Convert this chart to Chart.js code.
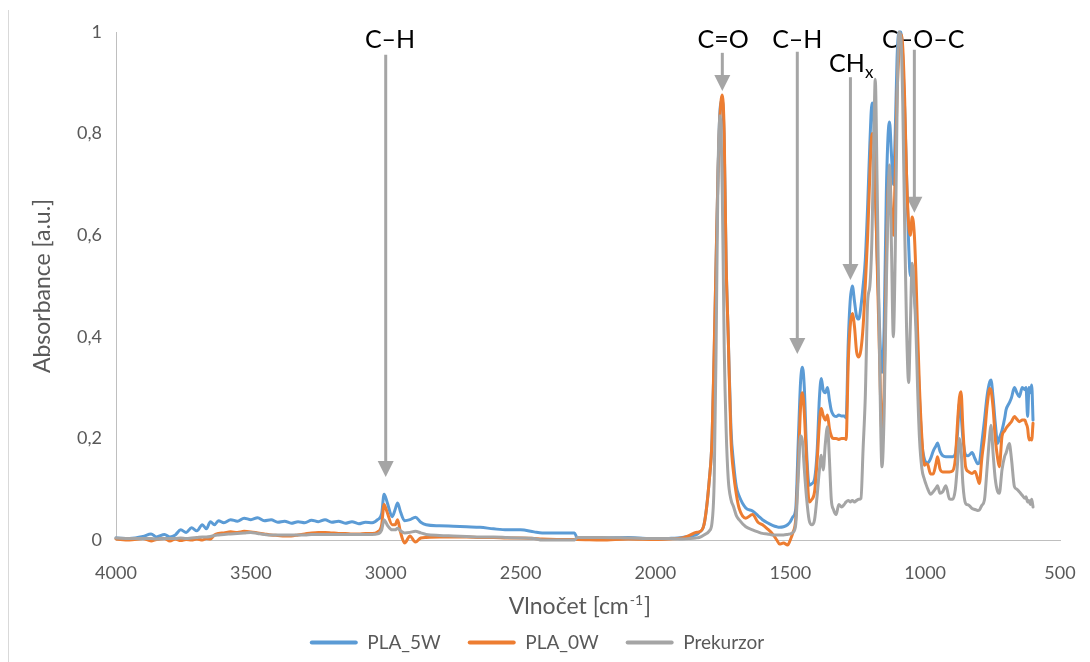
<!DOCTYPE html>
<html lang="cs">
<head>
<meta charset="utf-8">
<title>FTIR spektra</title>
<script src="https://cdn.jsdelivr.net/npm/chart.js@4.4.1/dist/chart.umd.min.js"></script>
<style>
html,body{margin:0;padding:0;background:#ffffff;}
#wrap{width:1090px;height:662px;position:relative;}
canvas{display:block;}
</style>
</head>
<body>
<div id="wrap"><canvas id="chart" width="1090" height="662"></canvas></div>
<script>
// ---------------- data ----------------
const wavenumbers = [
  4000,3950,3900,3870,3850,3820,3800,3780,3760,3740,3720,3700,3680,3665,3650,3635,3620,3600,3575,3550,
  3525,3500,3475,3450,3425,3400,3375,3350,3325,3300,3275,3250,3225,3200,3175,3150,3125,3100,3075,3050,
  3030,3015,3006,2995,2976,2965,2956,2945,2930,2910,2890,2870,2850,2800,2750,2700,2650,2600,2550,2500,
  2450,2420,2300,2290,2200,2100,2000,1950,1900,1870,1850,1838,1820,1800,1790,1782,1775,1768,1760,1752,
  1745,1738,1730,1720,1710,1700,1690,1665,1640,1620,1603,1585,1566,1550,1540,1525,1510,1500,1490,1480,
  1470,1462,1455,1448,1440,1430,1420,1410,1400,1392,1385,1378,1370,1362,1355,1348,1340,1330,1320,1310,
  1300,1293,1285,1278,1270,1262,1254,1246,1238,1230,1222,1213,1205,1197,1190,1185,1178,1170,1160,1152,
  1144,1138,1132,1125,1118,1111,1104,1097,1090,1083,1076,1069,1061,1055,1048,1040,1034,1028,1021,1012,
  1003,997,990,980,970,960,954,945,935,923,910,898,888,880,873,867,860,850,840,826,
  815,805,799,790,780,770,760,756,748,740,731,725,715,705,700,688,680,669,660,651,
  640,630,626,620,615,610,605,600
];
const pla5w = [
  .004,.003,.007,.012,.006,.011,.006,.010,.020,.015,.024,.018,.030,.022,.036,.030,.038,.034,.040,.037,
  .043,.040,.044,.038,.040,.035,.037,.033,.036,.034,.039,.036,.040,.035,.037,.033,.036,.032,.035,.034,
  .040,.052,.090,.075,.046,.060,.073,.055,.038,.040,.045,.035,.030,.028,.027,.026,.025,.022,.020,.020,
  .016,.014,.014,.004,.004,.005,.002,.003,.005,.008,.010,.015,.030,.120,.200,.370,.550,.720,.850,.865,
  .780,.550,.400,.220,.150,.105,.087,.063,.057,.048,.040,.034,.029,.026,.025,.026,.030,.036,.046,.060,
  .200,.310,.340,.300,.180,.108,.111,.120,.180,.280,.318,.295,.290,.300,.276,.255,.246,.243,.246,.244,
  .244,.240,.390,.470,.500,.470,.440,.435,.460,.500,.550,.660,.780,.860,.820,.700,.560,.430,.330,.420,
  .680,.790,.823,.760,.700,.800,.950,1.000,1.000,.950,.850,.720,.580,.520,.540,.480,.440,.370,.280,.190,
  .160,.153,.152,.160,.175,.185,.191,.175,.166,.164,.164,.164,.170,.210,.270,.250,.200,.168,.166,.172,
  .160,.150,.152,.190,.236,.285,.312,.315,.280,.230,.190,.200,.216,.240,.256,.270,.280,.300,.290,.282,
  .300,.296,.300,.243,.300,.290,.305,.236
];
const pla0w = [
  .002,.000,.003,-.002,.001,.003,-.002,.002,-.001,.001,.000,.002,.000,.003,.002,.010,.013,.014,.016,.015,
  .017,.016,.014,.012,.010,.009,.008,.008,.010,.012,.014,.015,.015,.014,.013,.013,.012,.012,.013,.013,
  .016,.030,.070,.055,.030,.030,.040,.015,-.006,.008,-.004,.004,.005,.006,.006,.006,.005,.005,.004,.004,
  .003,.002,.001,.001,.000,.002,.001,.002,.004,.010,.015,.016,.030,.120,.200,.380,.550,.720,.840,.876,
  .800,.550,.400,.200,.130,.090,.063,.043,.050,.035,.030,.022,.012,.000,-.008,-.006,-.010,.000,.015,.040,
  .150,.260,.290,.250,.160,.075,.080,.095,.160,.230,.259,.245,.236,.246,.220,.205,.200,.200,.198,.200,
  .200,.198,.350,.420,.446,.420,.370,.360,.375,.420,.500,.600,.720,.800,.790,.700,.550,.380,.210,.300,
  .550,.680,.720,.650,.600,.720,.880,.960,.995,.970,.870,.720,.620,.600,.636,.600,.520,.410,.300,.200,
  .147,.150,.148,.130,.130,.150,.164,.140,.134,.134,.134,.136,.160,.230,.280,.292,.220,.144,.135,.131,
  .135,.120,.111,.160,.204,.265,.298,.295,.260,.200,.160,.144,.204,.215,.220,.228,.233,.243,.238,.233,
  .236,.236,.230,.220,.197,.200,.197,.230
];
const prekurzor = [
  .004,.003,.003,.003,.002,.003,.003,.003,.004,.003,.004,.005,.006,.006,.007,.009,.010,.011,.012,.013,
  .014,.015,.013,.011,.010,.010,.010,.010,.010,.010,.011,.011,.011,.011,.011,.011,.011,.011,.011,.011,
  .012,.020,.040,.030,.020,.020,.023,.018,.014,.015,.017,.014,.011,.009,.008,.007,.006,.006,.005,.004,
  .003,.000,.000,.005,.005,.004,.003,.003,.002,.003,.004,.005,.010,.018,.035,.120,.380,.720,.835,.680,
  .380,.220,.120,.080,.065,.048,.040,.026,.020,.016,.013,.012,.010,.010,.010,.010,.011,.012,.015,.030,
  .130,.205,.195,.140,.085,.039,.030,.040,.090,.138,.167,.138,.190,.223,.160,.080,.060,.050,.070,.065,
  .070,.075,.078,.075,.078,.075,.078,.080,.082,.180,.280,.470,.500,.600,.800,.907,.700,.400,.144,.250,
  .500,.650,.738,.580,.400,.560,.850,1.000,.990,.860,.620,.420,.310,.420,.545,.480,.410,.300,.200,.140,
  .120,.110,.100,.090,.095,.102,.107,.092,.095,.107,.081,.080,.100,.150,.200,.180,.110,.072,.069,.062,
  .060,.058,.059,.068,.079,.144,.210,.226,.170,.120,.095,.092,.138,.165,.171,.190,.160,.105,.100,.095,
  .088,.082,.085,.075,.078,.070,.080,.065
];
const seriesNames = ['PLA_5W', 'PLA_0W', 'Prekurzor'];
const xTickValues = [4000, 3500, 3000, 2500, 2000, 1500, 1000, 500];
const yTickValues = [0, 0.2, 0.4, 0.6, 0.8, 1];
const bandNames = ['C–H', 'C=O', 'C–H', 'CH', 'C–O–C'];
const bandSubscripts = ['', '', '', 'x', ''];
const bandLabelWavenumbers = [2984, 1749, 1474, 1274, 1007];
const bandLabelLevels = [0.969, 0.969, 0.969, 0.921, 0.969];
const arrowWavenumbers = [3000, 1752, 1474, 1277, 1040];
const arrowStartLevels = [0.955, 0.959, 0.961, 0.911, 0.965];
const arrowTipLevels = [0.124, 0.884, 0.366, 0.512, 0.644];
const xTitleMain = 'Vlnočet [cm';
const xTitleSup = '-1';
const xTitleEnd = ']';
const yTitle = 'Absorbance [a.u.]';

// ---------------- styles ----------------
const FONT = 'Lato, "Liberation Sans", sans-serif';
const seriesColors = ['#5B9BD5', '#ED7D31', '#A5A5A5'];
const PLOT_BOTTOM = 540;
const LEGEND_SHIFT = -4;

const extras = {
  id: 'extras',
  beforeDraw(chart) {
    const ctx = chart.ctx;
    ctx.save();
    ctx.fillStyle = '#ffffff';
    ctx.fillRect(0, 0, chart.width, chart.height);
    ctx.strokeStyle = '#D9D9D9';
    ctx.lineWidth = 1;
    ctx.beginPath();
    ctx.moveTo(8.5, 10);
    ctx.lineTo(8.5, chart.height);
    ctx.stroke();
    ctx.restore();
  },
  afterLayout(chart) {
    const L = chart.legend;
    if (L) { L.left += LEGEND_SHIFT; L.right += LEGEND_SHIFT; }
  },
  beforeDatasetsDraw(chart) {
    const {ctx, scales: {x, y}} = chart;
    ctx.save();
    ctx.strokeStyle = '#A5A5A5';
    ctx.fillStyle = '#A5A5A5';
    ctx.lineWidth = 3;
    arrowWavenumbers.forEach((w, i) => {
      const px = x.getPixelForValue(w);
      const y0 = y.getPixelForValue(arrowStartLevels[i]);
      const y1 = y.getPixelForValue(arrowTipLevels[i]);
      const head = 16, half = 8;
      ctx.beginPath();
      ctx.moveTo(px, y0);
      ctx.lineTo(px, y1 - head + 1);
      ctx.stroke();
      ctx.beginPath();
      ctx.moveTo(px - half, y1 - head);
      ctx.lineTo(px + half, y1 - head);
      ctx.lineTo(px, y1);
      ctx.closePath();
      ctx.fill();
    });
    ctx.fillStyle = '#000000';
    ctx.textBaseline = 'alphabetic';
    ctx.textAlign = 'left';
    bandNames.forEach((t, i) => {
      ctx.font = '25px ' + FONT;
      const w1 = ctx.measureText(t).width;
      ctx.font = '17px ' + FONT;
      const sub = bandSubscripts[i];
      const w2 = sub ? ctx.measureText(sub).width : 0;
      const cx = x.getPixelForValue(bandLabelWavenumbers[i]);
      const by = y.getPixelForValue(bandLabelLevels[i]);
      const left = cx - (w1 + w2) / 2;
      ctx.font = '25px ' + FONT;
      ctx.fillText(t, left, by);
      if (sub) {
        ctx.font = '17px ' + FONT;
        ctx.fillText(sub, left + w1, by + 6);
      }
    });
    ctx.restore();
  },
  afterDraw(chart) {
    const {ctx, chartArea} = chart;
    ctx.save();
    ctx.fillStyle = '#595959';
    ctx.textBaseline = 'alphabetic';
    ctx.textAlign = 'left';
    const big = '23px ' + FONT, small = '14px ' + FONT;
    ctx.font = big;
    const a = ctx.measureText(xTitleMain).width;
    const c = ctx.measureText(xTitleEnd).width;
    ctx.font = small;
    const b = ctx.measureText(xTitleSup).width;
    const cx = (chartArea.left + chartArea.right) / 2 - 8;
    const base = chartArea.bottom + 74;
    const left = cx - (a + b + c + 2) / 2;
    ctx.font = big;
    ctx.fillText(xTitleMain, left, base);
    ctx.font = small;
    ctx.fillText(xTitleSup, left + a + 1, base - 9);
    ctx.font = big;
    ctx.fillText(xTitleEnd, left + a + b + 2, base);
    ctx.restore();
  }
};

const datasets = [pla5w, pla0w, prekurzor].map((vals, k) => ({
  label: seriesNames[k],
  data: wavenumbers.map((w, i) => ({x: w, y: vals[i]})),
  borderColor: seriesColors[k],
  backgroundColor: seriesColors[k],
  borderWidth: 3,
  pointRadius: 0,
  pointHoverRadius: 0,
  fill: false,
  cubicInterpolationMode: 'monotone',
  borderJoinStyle: 'round',
  borderCapStyle: 'round',
  clip: false,
  order: 3 - k
}));

new Chart(document.getElementById('chart'), {
  type: 'line',
  data: {datasets},
  plugins: [extras],
  options: {
    responsive: false,
    animation: false,
    devicePixelRatio: 1,
    events: [],
    layout: {padding: {left: 22, right: 30, top: 32, bottom: 0}},
    plugins: {
      tooltip: {enabled: false},
      legend: {
        position: 'bottom',
        align: 'center',
        labels: {
          color: '#595959',
          font: {family: FONT, size: 19},
          boxWidth: 48,
          boxHeight: 4,
          padding: 27,
          generateLabels(chart) {
            const items = Chart.defaults.plugins.legend.labels.generateLabels(chart);
            items.forEach(it => { it.fillStyle = it.strokeStyle; it.lineWidth = 0; it.borderRadius = 2; });
            return items.sort((p, q) => p.datasetIndex - q.datasetIndex);
          }
        }
      }
    },
    scales: {
      x: {
        type: 'linear',
        reverse: true,
        min: 500,
        max: 4000,
        afterBuildTicks(s) { s.ticks = xTickValues.map(v => ({value: v})); },
        afterFit(s) {
          const c = s.chart;
          const lh = c.legend ? c.legend.height : 55;
          s.height = c.height - PLOT_BOTTOM - lh;
          s.paddingLeft = 0;
          s.paddingRight = 0;
        },
        grid: {display: false, drawTicks: false},
        border: {display: true, color: '#BFBFBF', width: 1},
        ticks: {
          color: '#595959',
          font: {family: FONT, size: 18},
          padding: 22,
          autoSkip: false,
          maxRotation: 0,
          minRotation: 0,
          callback: v => String(v)
        }
      },
      y: {
        type: 'linear',
        min: 0,
        max: 1,
        afterBuildTicks(s) { s.ticks = yTickValues.map(v => ({value: v})); },
        afterFit(s) { s.width = 94; },
        grid: {display: false, drawTicks: false},
        border: {display: true, color: '#BFBFBF', width: 1},
        ticks: {
          color: '#595959',
          font: {family: FONT, size: 18},
          padding: 14,
          callback: v => String(Math.round(v * 10) / 10).replace('.', ',')
        },
        title: {
          display: true,
          text: yTitle,
          color: '#595959',
          font: {family: FONT, size: 23},
          padding: {top: 7, bottom: 0}
        }
      }
    }
  }
});
</script>
</body>
</html>
